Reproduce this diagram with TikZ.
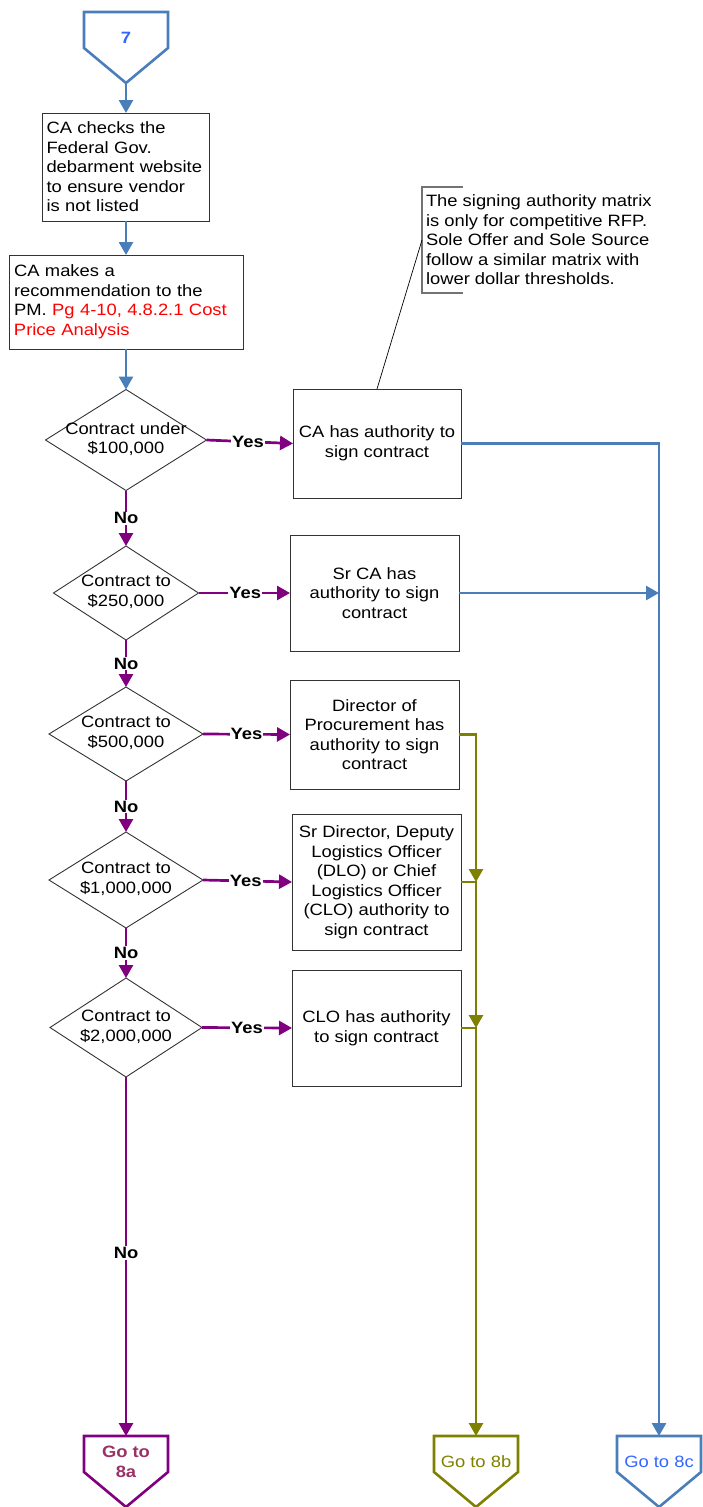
\documentclass[tikz,border=0pt]{standalone}
\usepackage{fontspec}
\setmainfont{Liberation Sans}[FakeStretch=1.12]
\usetikzlibrary{arrows.meta,shapes.geometric}

\definecolor{flowblue}{HTML}{4A7EBB}
\definecolor{flowpurple}{HTML}{800080}
\definecolor{flowolive}{HTML}{808000}
\definecolor{linkblue}{HTML}{3366FF}
\definecolor{linkmaroon}{HTML}{993366}
\definecolor{boxline}{HTML}{333333}

\tikzset{
  every node/.style={font=\fontsize{16.4}{19.5}\selectfont, outer sep=0pt},
  process/.style={draw=boxline, line width=0.9pt, rectangle, align=center, inner sep=4pt},
  decision/.style={draw=boxline, line width=0.9pt, diamond, inner sep=0pt},
  dtext/.style={align=center, inner sep=0pt},
  offpage/.style={line width=2.6pt, line join=miter},
  tip/.style={-{Triangle[length=13pt,width=14pt]}},
  blueflow/.style={tip, draw=flowblue, line width=2.7pt},
  purpleflow/.style={tip, draw=flowpurple, line width=2.7pt},
  oliveflow/.style={tip, draw=flowolive, line width=2.7pt},
  lbl/.style={fill=white, font=\fontsize{16.4}{19.5}\selectfont\bfseries, inner sep=1pt},
}

\begin{document}
\begin{tikzpicture}[x=1pt,y=-1pt]
\useasboundingbox (0,0) rectangle (702,1507);

% ---- off-page connector 7 -------------------------------------------
\draw[offpage, draw=flowblue] (84,12) -- (168,12) -- (168,48) -- (126,83) -- (84,48) -- cycle;
\node[text=linkblue, font=\fontsize{16.4}{19.5}\selectfont\bfseries] (n7) at (126,38) {7};
\coordinate (p7) at (126,83);

% ---- opening steps ---------------------------------------------------
\node[process, minimum width=167, minimum height=108, text width=159, align=left]
  (b1) at (126,167) {CA checks the\\Federal Gov.\\debarment website\\to ensure vendor\\is not listed};
\node[process, minimum width=234, minimum height=94, text width=224, align=left]
  (b2) at (126,302) {CA makes a\\recommendation to the\\PM. \textcolor{red}{Pg 4-10, 4.8.2.1 Cost}\\\textcolor{red}{Price Analysis}};

% ---- decisions -------------------------------------------------------
\node[decision, minimum width=161, minimum height=101] (d1) at (126,440) {};
\node[dtext] at (126,439) {Contract under\\\$100,000};
\node[decision, minimum width=145, minimum height=94] (d2) at (126,593) {};
\node[dtext] at (126,592) {Contract to\\\$250,000};
\node[decision, minimum width=154, minimum height=94] (d3) at (126,734) {};
\node[dtext] at (126,733) {Contract to\\\$500,000};
\node[decision, minimum width=154, minimum height=96] (d4) at (126,880) {};
\node[dtext] at (126,879) {Contract to\\\$1,000,000};
\node[decision, minimum width=152, minimum height=99] (d5) at (126,1027.5) {};
\node[dtext] at (126,1027) {Contract to\\\$2,000,000};

% ---- signing authorities ---------------------------------------------
\node[process, minimum width=168, minimum height=109] (a1) at (377,443.5) {CA has authority to\\sign contract};
\node[process, minimum width=169, minimum height=116] (a2) at (374.5,593) {Sr CA has\\authority to sign\\contract};
\node[process, minimum width=169, minimum height=109] (a3) at (374.5,734.5) {Director of\\Procurement has\\authority to sign\\contract};
\node[process, minimum width=169, minimum height=136] (a4) at (376.5,882) {Sr Director, Deputy\\Logistics Officer\\(DLO) or Chief\\Logistics Officer\\(CLO) authority to\\sign contract};
\node[process, minimum width=169, minimum height=116] (a5) at (376.5,1028) {CLO has authority\\to sign contract};

% ---- annotation ------------------------------------------------------
\draw[draw=black!55, line width=1.4pt] (463,187) -- (422,187) -- (422,293) -- (463,293);
\coordinate (note) at (422,240);
\node[anchor=west, align=left, inner sep=0pt] (notetext) at (426,240)
  {The signing authority matrix\\is only for competitive RFP.\\Sole Offer and Sole Source\\follow a similar matrix with\\lower dollar thresholds.};
\draw[line width=0.7pt] (a1.north) -- (note);

% ---- off-page connectors 8a / 8b / 8c --------------------------------
\draw[offpage, draw=flowpurple] (84,1436) -- (168,1436) -- (168,1472) -- (126,1507) -- (84,1472) -- cycle;
\node[text=linkmaroon, align=center, font=\fontsize{16.4}{19.5}\selectfont\bfseries] (n8a) at (126,1462) {Go to\\8a};
\coordinate (c8a) at (126,1436);
\draw[offpage, draw=flowolive] (434,1436) -- (518,1436) -- (518,1472) -- (476,1507) -- (434,1472) -- cycle;
\node[text=flowolive] (n8b) at (476,1462) {Go to 8b};
\coordinate (c8b) at (476,1436);
\draw[offpage, draw=flowblue] (617,1436) -- (701,1436) -- (701,1472) -- (659,1507) -- (617,1472) -- cycle;
\node[text=linkblue] (n8c) at (659,1462) {Go to 8c};
\coordinate (c8c) at (659,1436);

% ---- main flow -------------------------------------------------------
\draw[blueflow] (p7) -- (b1.north);
\draw[blueflow] (b1.south) -- (b2.north);
\draw[blueflow] (b2.south) -- (d1.north);

\draw[purpleflow] (d1.south) -- (d2.north) node[midway, lbl] {No};
\draw[purpleflow] (d2.south) -- (d3.north) node[midway, lbl] {No};
\draw[purpleflow] (d3.south) -- (d4.north) node[midway, lbl] {No};
\draw[purpleflow] (d4.south) -- (d5.north) node[midway, lbl] {No};
\draw[purpleflow] (d5.south) -- (c8a) node[pos=0.49, lbl] {No};

\draw[purpleflow] (d1.east) -- (a1.west) node[pos=0.48, lbl] {Yes};
\draw[purpleflow] (d2.east) -- (a2.west) node[pos=0.51, lbl] {Yes};
\draw[purpleflow] (d3.east) -- (a3.west) node[pos=0.5, lbl] {Yes};
\draw[purpleflow] (d4.east) -- (a4.west) node[pos=0.48, lbl] {Yes};
\draw[purpleflow] (d5.east) -- (a5.west) node[pos=0.5, lbl] {Yes};

% ---- outcomes --------------------------------------------------------
\draw[blueflow] (a1.east) -| (c8c);
\draw[blueflow] (a2.east) -- (a2.east -| c8c);
\draw[oliveflow] (a3.east) -| (a4.east -| c8b);
\draw[oliveflow] (a4.east) -| (a5.east -| c8b);
\draw[oliveflow] (a5.east) -| (c8b);
\end{tikzpicture}
\end{document}
